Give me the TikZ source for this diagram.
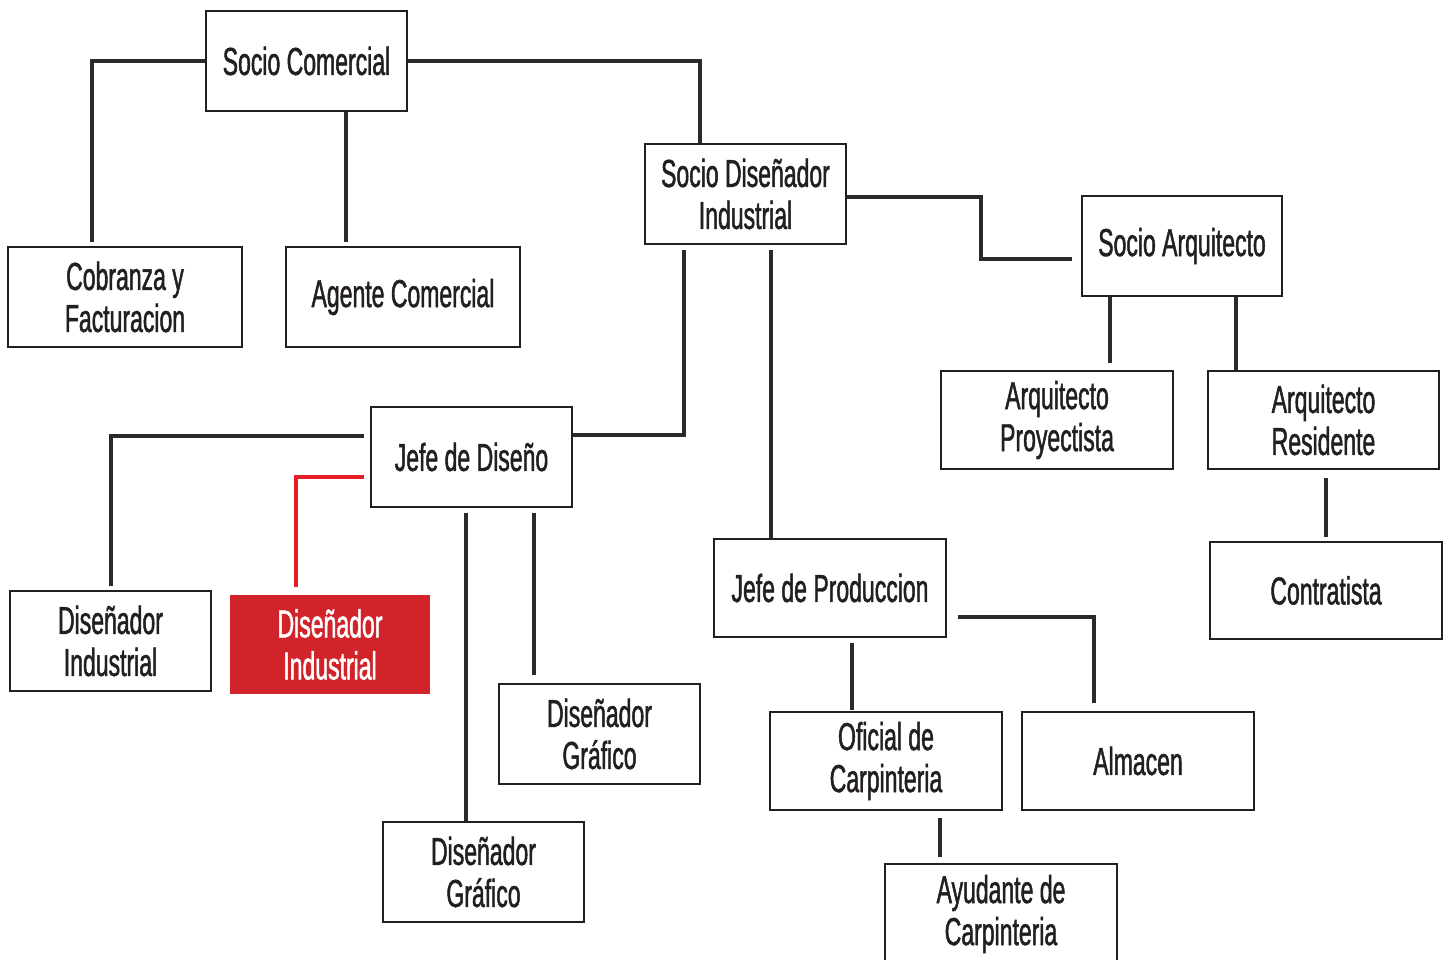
\documentclass[tikz,border=0pt]{standalone}
\usepackage{fontspec}
\setmainfont{Liberation Sans}[FakeStretch=0.59,FakeBold=1.2]
\usetikzlibrary{calc}
\definecolor{ink}{HTML}{231F20}
\definecolor{lineink}{HTML}{2A2A2A}
\definecolor{redbox}{HTML}{D0232A}
\definecolor{redline}{HTML}{E41F26}
\begin{document}
\begin{tikzpicture}[x=1pt,y=-1pt,
  box/.style={draw=ink, line width=2.5pt, fill=white, rectangle, inner sep=0pt, align=center,
    font=\fontsize{39}{42}\selectfont, text=ink},
  redbx/.style={fill=redbox, rectangle, inner sep=0pt, align=center,
    font=\fontsize{39}{42}\selectfont, text=white},
  conn/.style={draw=lineink, line width=4pt},
  redconn/.style={draw=redline, line width=3.5pt}]
\useasboundingbox (0,0) rectangle (1445,960);
\clip (0,0) rectangle (1445,960);
% nodes
\node[box, minimum width=201pt, minimum height=100pt] (sc) at (306.5,61) {Socio Comercial};
\node[box, minimum width=234pt, minimum height=100pt] (cf) at (125,297) {Cobranza y\\Facturacion};
\node[box, minimum width=234pt, minimum height=100pt] (ac) at (403,297) {Agente Comercial};
\node[box, minimum width=201pt, minimum height=100pt] (sdi) at (745.5,194) {Socio Diseñador\\Industrial};
\node[box, minimum width=200pt, minimum height=100pt] (sa) at (1182,246) {Socio Arquitecto};
\node[box, minimum width=232pt, minimum height=98pt] (ap) at (1057,420) {Arquitecto\\Proyectista};
\node[box, minimum width=231pt, minimum height=98pt] (ar) at (1323.5,420) {Arquitecto\\Residente};
\node[box, minimum width=232pt, minimum height=97pt] (ct) at (1326,590.5) {Contratista};
\node[box, minimum width=201pt, minimum height=100pt] (jd) at (471.5,457) {Jefe de Diseño};
\node[box, minimum width=201pt, minimum height=100pt] (di1) at (110.5,641) {Diseñador\\Industrial};
\node[redbx, minimum width=200pt, minimum height=99pt] (di2) at (330,644.5) {Diseñador\\Industrial};
\node[box, minimum width=201pt, minimum height=100pt] (dg1) at (599.5,734) {Diseñador\\Gráfico};
\node[box, minimum width=201pt, minimum height=100pt] (dg2) at (483.5,872) {Diseñador\\Gráfico};
\node[box, minimum width=232pt, minimum height=98pt] (jp) at (830,588) {Jefe de Produccion};
\node[box, minimum width=232pt, minimum height=98pt] (oc) at (886,761) {Oficial de\\Carpinteria};
\node[box, minimum width=232pt, minimum height=98pt] (al) at (1138,761) {Almacen};
\node[box, minimum width=232pt, minimum height=100pt] (ay) at (1001,914) {Ayudante de\\Carpinteria};
% connectors
\draw[conn] (sc.west) -| ($(cf.north)+(-33,-4)$);
\draw[conn] ($(sc.south)+(39.5,0)$) -- ($(ac.north)+(-57,-4)$);
\draw[conn] (sc.east) -| ($(sdi.north)+(-45.5,0)$);
\draw[conn] ($(sdi.east)+(0,3)$) -- ++(134,0) |- ($(sa.west)+(-9,13)$);
\draw[conn] ($(sdi.south)+(-61.5,5)$) |- ($(jd.east)+(0,-22)$);
\draw[conn] ($(sdi.south)+(25.5,5)$) -- ($(jp.north)+(-59,0)$);
\draw[conn] ($(sa.south)+(-72,0)$) -- ($(ap.north)+(53,-7)$);
\draw[conn] ($(sa.south)+(54,0)$) -- ($(ar.north)+(-87.5,0)$);
\draw[conn] ($(ar.south)+(2.5,8)$) -- ($(ct.north)+(0,-4)$);
\draw[conn] ($(jd.west)+(-6,-21)$) -| ($(di1.north)+(0.5,-4)$);
\draw[redconn] ($(jd.west)+(-6,20)$) -| ($(di2.north)+(-34,-8)$);
\draw[conn] ($(jd.south)+(-5.5,5)$) -- ($(dg2.north)+(-17.5,0)$);
\draw[conn] ($(jd.south)+(62.5,5)$) -- ($(dg1.north)+(-65.5,-8)$);
\draw[conn] ($(jp.south)+(22,5)$) -- ($(oc.north)+(-34,-1)$);
\draw[conn] ($(jp.east)+(11,29)$) -| ($(al.north)+(-44,-8)$);
\draw[conn] ($(oc.south)+(54,7)$) -- ($(ay.north)+(-61,-6)$);
\end{tikzpicture}
\end{document}
